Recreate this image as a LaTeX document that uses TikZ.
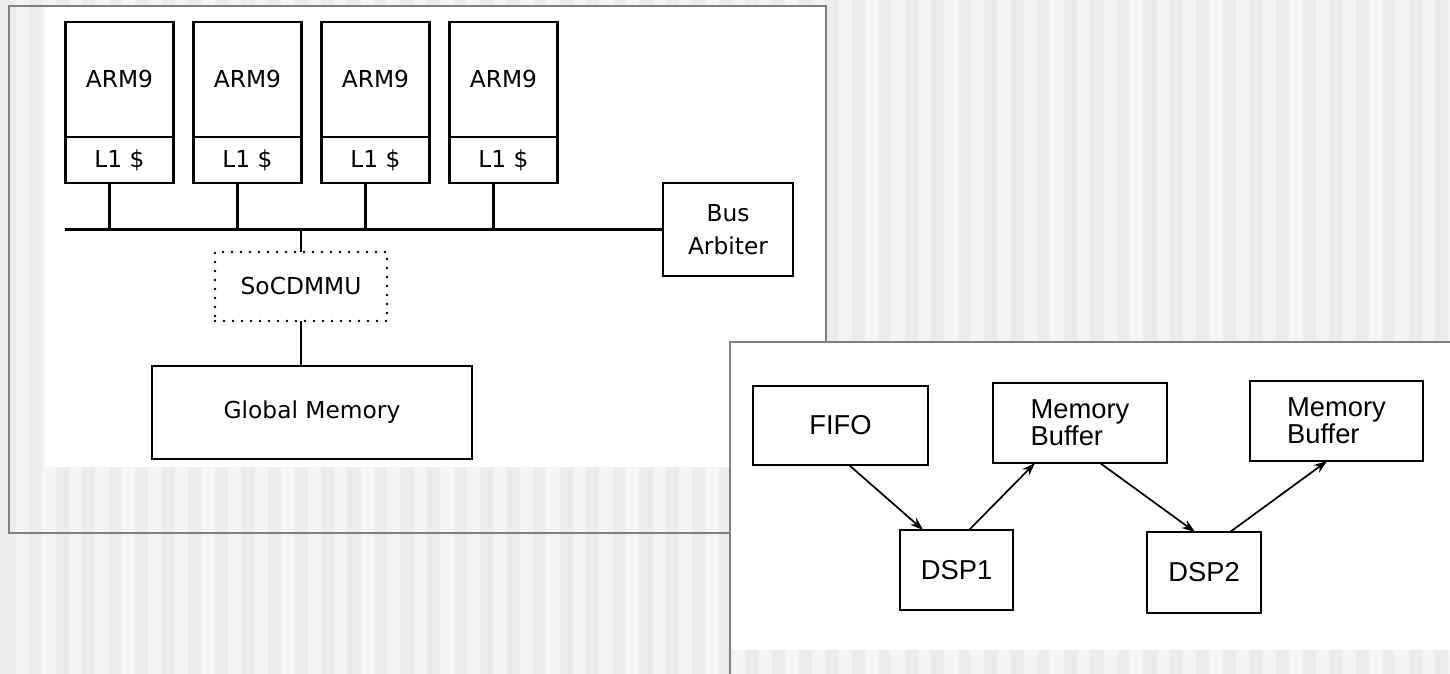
\documentclass[tikz,border=0pt]{standalone}
\usepackage{fontspec}
\setmainfont{Liberation Sans}
\newfontfamily\scanfont{DejaVu Sans}
\usetikzlibrary{arrows.meta,positioning}
\definecolor{stripeA}{RGB}{236,236,236}
\definecolor{stripeB}{RGB}{244,244,244}
\definecolor{framegray}{RGB}{128,128,128}

\begin{document}
\begin{tikzpicture}[x=0.75pt,y=-0.75pt,>={Stealth[length=10pt,width=7pt]},
  blk/.style={draw,line width=1.7pt,inner sep=0pt,outer sep=0pt,align=center,
              font=\scanfont\fontsize{17.5}{25}\selectfont},
  dotblk/.style={blk,line width=2.2pt,line cap=round,dash pattern=on 0pt off 6.75pt},
  pe/.style={draw,line width=1.5pt,inner sep=0pt,outer sep=0pt,align=left,
             font=\fontsize{20.5}{20.5}\selectfont},
  wire/.style={line width=1.7pt},
  flow/.style={->,line width=1.3pt},
  frame/.style={draw=framegray,line width=1.5pt}]
  % striped page behind both panels
  \useasboundingbox (0,0) rectangle (1450,674);
  \fill[stripeA] (0,0) rectangle (1450,674);
  \foreach \i in {0,...,54}
    \fill[stripeB] ({15.8+26.53*\i},0) rectangle ++(13.27,674);
  % left panel
  \fill[white] (45,6) rectangle (826,467);
  \draw[frame] (730,533) -- (9,533) -- (9,6) -- (826,6) -- (826,342);
  \foreach \k/\x in {1/119.5,2/247.5,3/375.5,4/503.5}{
    \node[blk,minimum width=81pt,minimum height=86.25pt] (arm\k) at (\x,79.5) {ARM9};
    \node[blk,minimum width=81pt,minimum height=34.5pt,below=0pt of arm\k] (lone\k) {L1 \$};
  }
  \node[blk,minimum width=97.5pt,minimum height=69.75pt] (arb) at (728,229.5) {Bus\\Arbiter};
  \coordinate (busl) at (65,229.5);
  \draw[wire] (busl) -- (arb.west);
  \foreach \k in {1,...,4}
    \draw[wire] ([xshift=-7.5pt]lone\k.south) -- ([xshift=-7.5pt]lone\k.south |- busl);
  \node[dotblk,minimum width=129pt,minimum height=51.75pt] (mmu) at (301,286.5) {SoCDMMU};
  \node[blk,minimum width=240pt,minimum height=69.75pt] (gmem) at (312,412.5) {Global Memory};
  \draw[wire] (mmu.north |- busl) -- (mmu.north);
  \draw[wire] (mmu.south) -- (mmu.south |- gmem.north);
  % right panel
  \fill[white] (731,343) rectangle (1450,650);
  \draw[frame] (1450,342) -- (730,342) -- (730,674);
  \node[pe,minimum width=131.25pt,minimum height=59.25pt] (fifo) at (840.5,425.5) {FIFO};
  \node[pe,minimum width=130.5pt,minimum height=60pt] (mbuf1) at (1080,423) {Memory\\Buffer};
  \node[pe,minimum width=129.75pt,minimum height=60pt] (mbuf2) at (1336.5,421) {Memory\\Buffer};
  \node[pe,minimum width=84.75pt,minimum height=60pt] (dsp1) at (956.5,570) {DSP1};
  \node[pe,minimum width=85.5pt,minimum height=60.75pt] (dsp2) at (1204,572.5) {DSP2};
  \draw[flow] ([xshift=6.4pt]fifo.south) -- ([xshift=-25pt]dsp1.north);
  \draw[flow] ([xshift=9.4pt]dsp1.north) -- ([xshift=-33.75pt]mbuf1.south);
  \draw[flow] ([xshift=15pt]mbuf1.south) -- ([xshift=-6.75pt]dsp2.north);
  \draw[flow] ([xshift=19.5pt]dsp2.north) -- ([xshift=-7pt]mbuf2.south);
\end{tikzpicture}
\end{document}
